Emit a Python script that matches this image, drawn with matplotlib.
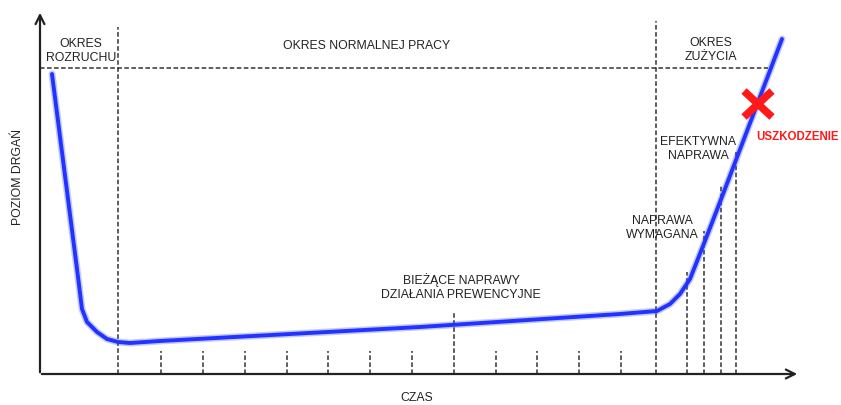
import matplotlib.pyplot as plt
from matplotlib import font_manager

# curve: time (t) vs vibration level (v)
curve_t = [12, 28, 37, 42, 47, 57, 67, 78, 90, 120, 380, 580, 617, 630, 640, 650, 663, 680, 742]
curve_v = [300, 175, 105, 65, 52, 42, 35, 32, 31, 33, 47, 60, 63, 70, 80, 95, 128, 172, 335]

# small dashed ticks along time axis
tick_t = [121, 163, 205, 247, 288, 330, 372, 414, 456, 497, 539, 581]
tick_top = [23, 23, 23, 23, 23, 23, 23, 63, 23, 23, 23, 23]

# dashed lines of the wear period
wear_t = [647, 664, 681, 696]
wear_top = [102, 143, 188, 222]

# period borders
border_t = [78, 616]
border_top = [347, 353]
limit_v = 306
limit_end = 728

failure = (718, 270)

names = [f.name for f in font_manager.fontManager.ttflist]
fam = ['Liberation Sans Narrow', 'Liberation Sans', 'DejaVu Sans']
fam = [f for f in fam if f in names] + ['DejaVu Sans']
plt.rcParams['font.family'] = fam

fig = plt.figure(figsize=(8.41, 4.06), dpi=100)
ax = fig.add_axes([0, 0, 1, 1])
ax.set_xlim(-40, 801)
ax.set_ylim(-31, 375)
ax.axis('off')

dash = dict(color='#333333', lw=1.1, ls=(0, (3, 1.6)))
ax.plot([0, limit_end], [limit_v, limit_v], **dash)
for t, top in zip(border_t, border_top):
    ax.plot([t, t], [0, top], **dash)
for t, top in zip(tick_t, tick_top):
    ax.plot([t, t], [0, top], **dash)
for t, top in zip(wear_t, wear_top):
    ax.plot([t, t], [0, top], **dash)

# axes with arrows
arr = dict(arrowstyle='->', lw=1.6, color='#222222', mutation_scale=16)
ax.annotate('', xy=(760, 0), xytext=(-1, 0), arrowprops=arr)
ax.annotate('', xy=(0, 364), xytext=(0, -1), arrowprops=arr)

ax.plot(curve_t, curve_v, color='#3a4cff', lw=5, alpha=0.3, solid_capstyle='round', solid_joinstyle='round')
ax.plot(curve_t, curve_v, color='#2233ff', lw=2.8, solid_capstyle='round', solid_joinstyle='round')

fx, fy = failure
ax.plot([fx - 14, fx + 14], [fy - 13, fy + 13], color='#ff1a1a', lw=5.5, solid_capstyle='butt')
ax.plot([fx - 14, fx + 14], [fy + 13, fy - 13], color='#ff1a1a', lw=5.5, solid_capstyle='butt')

tc = '#222222'
fs = 8.8
kw = dict(ha='center', va='center', fontsize=fs, color=tc, linespacing=1.3)
ax.text(41, 324, 'OKRES\nROZRUCHU', **kw)
ax.text(327, 329, 'OKRES NORMALNEJ PRACY', **kw)
ax.text(671, 325, 'OKRES\nZUŻYCIA', **kw)
ax.text(658, 226, 'EFEKTYWNA\nNAPRAWA', **kw)
ax.text(622, 147, 'NAPRAWA\nWYMAGANA', **kw)
ax.text(421, 88, 'BIEŻĄCE NAPRAWY\nDZIAŁANIA PREWENCYJNE', **kw)
ax.text(377, -23, 'CZAS', **kw)
ax.text(-22, 198, 'POZIOM DRGAŃ', rotation=90, **kw)
ax.text(716, 238, 'USZKODZENIE', ha='left', va='center', fontsize=8.3,
        color='#ff1a1a', fontweight='bold')

fig.savefig('out.png', dpi=100)
